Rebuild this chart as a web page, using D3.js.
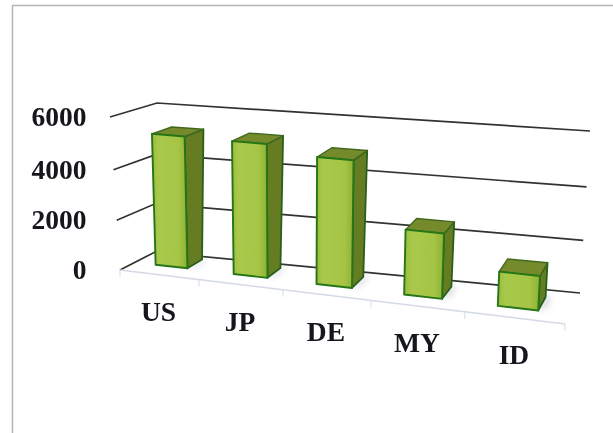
<!DOCTYPE html>
<html><head><meta charset="utf-8">
<script src="https://d3js.org/d3.v7.min.js"></script>
<style>html,body{margin:0;padding:0;background:#fff}svg{display:block}</style></head>
<body><svg id="c" width="613" height="433"></svg>
<script>
const categories = ["US","JP","DE","MY","ID"];
const values = [5200,5200,4900,2500,1300];
const yTicks = [0,2000,4000,6000];
const bandEdges = [0,1,2,3,4,5];
const edgeFractions = [0,.1775,.366,.564,.775,1];
const valueFractions = [0,.325,.655,1];

const W=613,H=433;
const svg=d3.select("#c");
const floorLeft=d3.scaleLinear().domain([0,1]).range([[120,270],[155,252]]);
const floorRight=d3.scaleLinear().domain([0,1]).range([[565,324],[580,293]]);
const topLeft=d3.scaleLinear().domain([0,1]).range([[110,117],[157,103]]);
const topRight=d3.scaleLinear().domain([0,1]).range([[574,159],[590,131]]);
const uScale=d3.scaleLinear().domain(bandEdges).range(edgeFractions);
const vScale=d3.scaleLinear().domain(yTicks).range(valueFractions);
const lerp=(a,b,t)=>[a[0]+(b[0]-a[0])*t,a[1]+(b[1]-a[1])*t];
// band position b (0..5), value v, depth d (0 front .. 1 back)
function P(b,v,d){
  const u=uScale(b);
  const fl=lerp(floorLeft(d),floorRight(d),u);
  const tp=lerp(topLeft(d),topRight(d),u);
  return lerp(fl,tp,vScale(v));
}
const line=d3.line();
const defs=svg.append("defs");
const blur=defs.append("filter").attr("id","soft").attr("x","-10%").attr("y","-10%").attr("width","120%").attr("height","120%");
blur.append("feGaussianBlur").attr("stdDeviation",0.6);
const tblur=defs.append("filter").attr("id","tsoft").attr("x","-10%").attr("y","-10%").attr("width","120%").attr("height","120%");
tblur.append("feGaussianBlur").attr("stdDeviation",0.35);
const sh=defs.append("filter").attr("id","sh").attr("x","-50%").attr("y","-50%").attr("width","200%").attr("height","200%");
sh.append("feGaussianBlur").attr("stdDeviation",3);
const grad=defs.append("linearGradient").attr("id","face");
grad.selectAll("stop").data([[0,"#99bb38"],[.18,"#a9c94d"],[.75,"#a6c545"],[1,"#8fb036"]]).join("stop")
  .attr("offset",d=>d[0]).attr("stop-color",d=>d[1]);

svg.append("rect").attr("x",12.5).attr("y",5.5).attr("width",W).attr("height",H).attr("fill","#fff").attr("stroke","#b4b4b4").attr("stroke-width",1.5);

const plot=svg.append("g").attr("filter","url(#soft)");
plot.append("g").selectAll("path").data(yTicks).join("path")
  .attr("d",v=>line([P(0,v,0),P(0,v,1),P(5,v,1)]))
  .attr("fill","none").attr("stroke","#2f342d").attr("stroke-width",1.7);
plot.append("path").attr("d",line([P(0,0,0),P(5,0,0)])).attr("fill","none").attr("stroke","#d4d9e6").attr("stroke-width",1.5);
plot.append("g").selectAll("path").data(bandEdges).join("path")
  .attr("d",b=>{const p=P(b,0,0);return line([p,[p[0],p[1]+7]]);})
  .attr("fill","none").attr("stroke","#d4d9e6").attr("stroke-width",1);

const lo=.27,hi=.68;
const df=i=>.42-.025*i, db=i=>.87-.025*i;
const bars=plot.append("g").selectAll("g").data(values).join("g");
bars.append("path").attr("filter","url(#sh)").attr("fill","#c4c7d2").attr("opacity",.8)
  .attr("d",(v,i)=>line([P(i+hi,0,df(i)),P(i+hi+.06,0,df(i)+.1),P(i+hi+.06,0,db(i)),P(i+hi,0,db(i))])+"Z");
bars.append("path").attr("fill","#667c24").attr("stroke","#27611a").attr("stroke-width",1.8).attr("stroke-linejoin","round")
  .attr("d",(v,i)=>line([P(i+hi,0,df(i)),P(i+hi,v,df(i)),P(i+hi,v,db(i)),P(i+hi,0,db(i))])+"Z");
bars.append("path").attr("fill","#758a2c").attr("stroke","#41691f").attr("stroke-width",1.4).attr("stroke-linejoin","round")
  .attr("d",(v,i)=>line([P(i+lo,v,df(i)),P(i+hi,v,df(i)),P(i+hi,v,db(i)),P(i+lo,v,db(i))])+"Z");
bars.append("path").attr("fill","url(#face)").attr("stroke","#267516").attr("stroke-width",1.9).attr("stroke-linejoin","round")
  .attr("d",(v,i)=>line([P(i+lo,0,df(i)),P(i+hi,0,df(i)),P(i+hi,v,df(i)),P(i+lo,v,df(i))])+"Z");

const font="'Liberation Serif','Times New Roman',serif";
svg.append("g").attr("filter","url(#tsoft)").selectAll("text").data(yTicks).join("text")
  .attr("x",86.5).attr("y",v=>P(0,v,0)[1]+9).attr("text-anchor","end")
  .attr("font-family",font).attr("font-weight","bold").attr("font-size",27.5).attr("fill","#12151a")
  .text(d=>d);
svg.append("g").attr("filter","url(#tsoft)").selectAll("text").data(categories).join("text")
  .attr("x",(c,i)=>P(i+.5,0,0)[0]-1).attr("y",(c,i)=>P(i+.5,0,0)[1]+46).attr("text-anchor","middle")
  .attr("font-family",font).attr("font-weight","bold").attr("font-size",27.5).attr("fill","#12151a")
  .text(d=>d);
</script></body></html>
